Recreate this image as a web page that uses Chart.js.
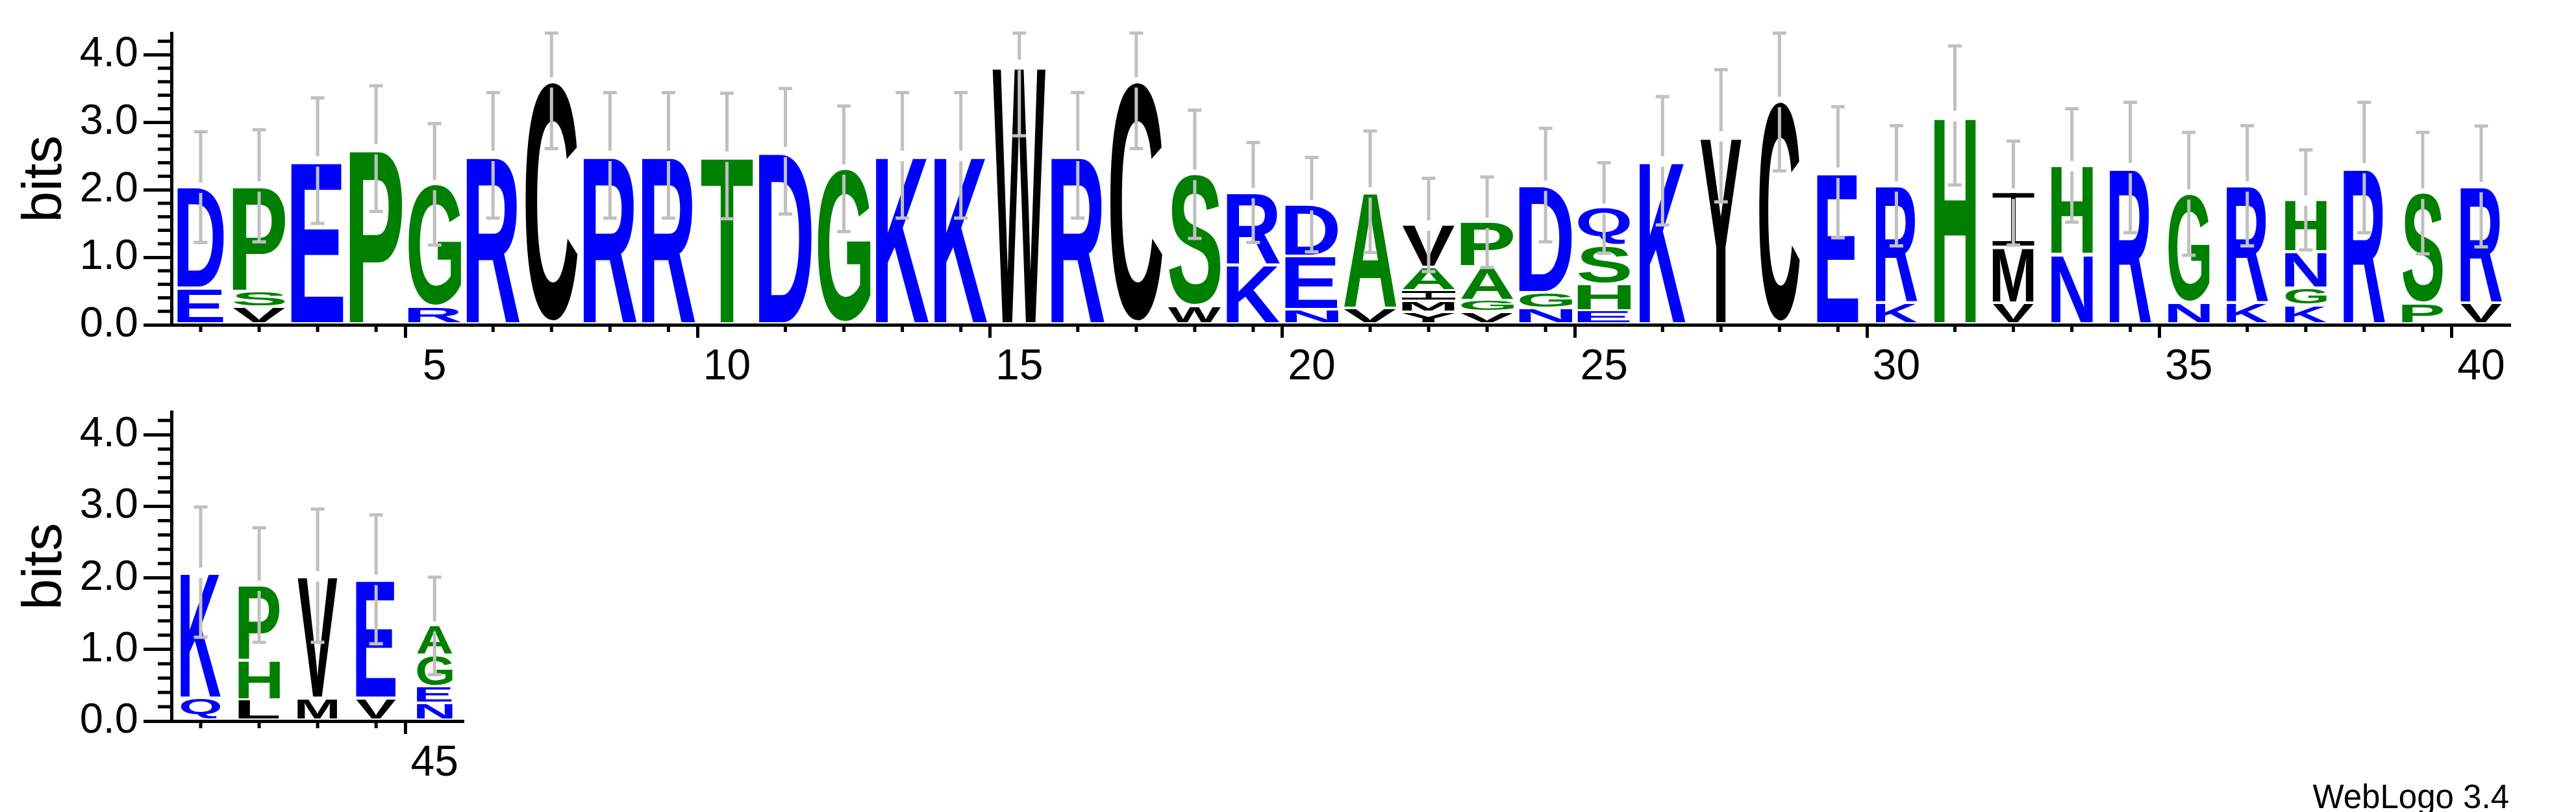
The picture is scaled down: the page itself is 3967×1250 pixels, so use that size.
<!DOCTYPE html>
<html>
<head>
<meta charset="utf-8">
<script src="https://cdn.jsdelivr.net/npm/chart.js@4.4.1/dist/chart.umd.min.js"></script>
<style>
  html, body { margin: 0; padding: 0; background: #ffffff; }
  body { width: 3967px; height: 1250px; position: relative; overflow: hidden; }
  #logoTop { position: absolute; left: 0; top: 0; }
  #logoBottom { position: absolute; left: 0; top: 583px; }
</style>
</head>
<body>
<canvas id="logoTop" width="3967" height="640"></canvas>
<canvas id="logoBottom" width="3967" height="667"></canvas>
<script>
// ---------------- DATA ----------------
// sequence positions (x categories) for the two rows
const topPositions = ['1','2','3','4','5','6','7','8','9','10','11','12','13','14','15','16','17','18','19','20',
                      '21','22','23','24','25','26','27','28','29','30','31','32','33','34','35','36','37','38','39','40'];
const bottomPositions = ['41','42','43','44','45'];

// letters of each stack, listed from bottom to top
const stackLetters = ['ED','VSP','E','P','RG','R','C','R','R','T','D','G','K','K','W','R','C','WS','KR','NED',
                      'VA','YMIAV','VGAP','NGD','EHSQ','K','Y','C','E','KR','H','VMI','NH','R','NG','KR','KGNH','R','PS','VR',
                      'QK','LHP','MV','VE','NEGA'];

// letter heights (bits), same order as the letters
const stackBits = [
  [0.53,1.51],[0.25,0.24,1.57],[2.43],[2.61],[0.25,1.83],[2.51],[3.60],[2.51],[2.51],[2.50],
  [2.57],[2.31],[2.51],[2.51],[3.86],[2.51],[3.60],[0.26,1.97],[0.88,1.08],[0.215,0.795,0.77],
  [0.24,1.73],[0.18,0.16,0.16,0.34,0.64],[0.18,0.17,0.50,0.67],[0.235,0.235,1.60],[0.20,0.39,0.57,0.57],
  [2.43],[2.80],[3.31],[2.26],[0.31,1.75],[3.10],[0.31,0.83,0.81],[1.03,1.33],[2.33],[0.31,1.63],
  [0.31,1.75],[0.28,0.25,0.54,0.78],[2.33],[0.30,1.65],[0.31,1.74],
  [0.31,1.77],[0.29,0.55,1.06],[0.31,1.72],[0.31,1.67],[0.24,0.23,0.44,0.42]
];

// error bar half-lengths (bits)
const errorBits = [0.82,0.83,0.93,0.93,0.90,0.93,0.99,0.93,0.93,0.93,
                   0.93,0.93,0.93,0.93,1.06,0.93,0.99,0.95,0.74,0.70,
                   0.90,0.69,0.67,0.84,0.67,0.95,0.98,1.03,0.97,0.89,
                   1.03,0.77,0.84,0.965,0.91,0.89,0.74,0.965,0.90,0.895,
                   0.91,0.80,0.93,0.90,0.68];

// stack width (fraction of non-gapped sequences)
const stackWidth = [0.88,1,1,1,1,1,1,1,1,1,1,1,1,1,1,1,1,1,1,1,
                    1,1,1,1,1,0.87,0.77,0.78,0.79,0.78,0.78,0.78,0.78,0.78,0.78,0.78,0.78,0.78,0.78,0.78,
                    0.76,0.78,0.76,0.76,0.67];

// y axis ticks
const yMax = 4.32;
const yStep = 0.2;

// ---------------- STYLE ----------------
const FONT = '"Liberation Sans", Arial, Helvetica, sans-serif';
const HYDROPHILIC = 'RKDENQ';
const NEUTRAL = 'SGHTAP';
function letterColor(ch) {
  if (HYDROPHILIC.includes(ch)) return '#0000ff';
  if (NEUTRAL.includes(ch)) return '#008000';
  return '#000000';
}

const glyphCache = {};
function drawGlyph(ctx, ch, x, y, w, h, color) {
  if (h < 0.5 || w < 0.5) return;
  ctx.save();
  ctx.fillStyle = color;
  if (ch === 'I') {
    const t = Math.max(3, Math.min(7, h * 0.085));
    const sw = Math.max(4, w * 0.11);
    ctx.fillRect(x, y, w, t);
    ctx.fillRect(x, y + h - t, w, t);
    ctx.fillRect(x + w / 2 - sw / 2, y, sw, h);
  } else {
    ctx.font = 'bold 400px ' + FONT;
    let m = glyphCache[ch];
    if (!m) {
      const mm = ctx.measureText(ch);
      m = { l: mm.actualBoundingBoxLeft, r: mm.actualBoundingBoxRight,
            a: mm.actualBoundingBoxAscent, d: mm.actualBoundingBoxDescent };
      glyphCache[ch] = m;
    }
    const gw = m.l + m.r, gh = m.a + m.d;
    ctx.translate(x, y);
    ctx.scale(w / gw, h / gh);
    ctx.textAlign = 'left';
    ctx.textBaseline = 'alphabetic';
    ctx.fillText(ch, m.l, m.a);
  }
  ctx.restore();
}

const logoPlugin = {
  id: 'logo',
  afterDatasetsDraw(chart, args, opts) {
    const ctx = chart.ctx;
    const xs = chart.scales.x, ys = chart.scales.y;
    // letters
    chart.data.datasets.forEach((ds, di) => {
      const meta = chart.getDatasetMeta(di);
      meta.data.forEach((el, j) => {
        if (ds.data[j] == null) return;
        const p = el.getProps(['x', 'y', 'base', 'width'], true);
        const top = Math.min(p.y, p.base);
        const bot = Math.max(p.y, p.base) - 3.5;
        const w = p.width * stackWidth[opts.offset + j];
        drawGlyph(ctx, ds.letters[j], p.x - w / 2, top, w, bot - top, letterColor(ds.letters[j]));
      });
    });
    // error bars
    ctx.save();
    ctx.strokeStyle = '#c0c0c0';
    ctx.lineWidth = 5;
    ctx.lineCap = 'butt';
    opts.totals.forEach((tot, j) => {
      const err = errorBits[opts.offset + j];
      const x = xs.getPixelForValue(j);
      const yc = ys.getPixelForValue(tot);
      const yt = ys.getPixelForValue(Math.min(tot + err, ys.max));
      const yb = ys.getPixelForValue(Math.max(tot - err, 0));
      ctx.beginPath();
      ctx.moveTo(x, yt); ctx.lineTo(x, yc - 7);
      ctx.moveTo(x, yc + 9); ctx.lineTo(x, yb);
      ctx.moveTo(x - 10.5, yt); ctx.lineTo(x + 10.5, yt);
      ctx.moveTo(x - 10.5, yb); ctx.lineTo(x + 10.5, yb);
      ctx.stroke();
    });
    ctx.restore();
  },
  afterDraw(chart, args, opts) {
    // minor ticks on both axes
    const ctx = chart.ctx, ca = chart.chartArea;
    const xs = chart.scales.x, ys = chart.scales.y;
    ctx.save();
    ctx.strokeStyle = '#000';
    ctx.lineWidth = 5;
    ys.ticks.forEach(t => {
      if (Math.abs(t.value - Math.round(t.value)) > 1e-6) {
        const py = ys.getPixelForValue(t.value);
        ctx.beginPath(); ctx.moveTo(ca.left - 21, py); ctx.lineTo(ca.left, py); ctx.stroke();
      }
    });
    xs.ticks.forEach((t, i) => {
      const lab = Number(chart.data.labels[t.value]);
      if (lab % 5 !== 0) {
        const px = xs.getPixelForValue(t.value);
        ctx.beginPath(); ctx.moveTo(px, ca.bottom); ctx.lineTo(px, ca.bottom + 11); ctx.stroke();
      }
    });
    if (opts.footer) {
      ctx.fillStyle = '#000';
      ctx.font = '51px ' + FONT;
      ctx.textAlign = 'right';
      ctx.textBaseline = 'alphabetic';
      ctx.fillText(opts.footer, 3864, 661);
    }
    ctx.restore();
  }
};

function makeLogo(canvasId, positions, offset, chartAreaRight, footer) {
  const canvas = document.getElementById(canvasId);
  const layers = 5;
  const datasets = [];
  for (let L = 0; L < layers; L++) {
    datasets.push({
      data: positions.map((p, j) => {
        const v = stackBits[offset + j][L];
        return v === undefined ? null : v;
      }),
      letters: positions.map((p, j) => stackLetters[offset + j][L] || ''),
      backgroundColor: 'rgba(0,0,0,0)',
      borderWidth: 0,
      barPercentage: 0.911,
      categoryPercentage: 1.0
    });
  }
  const totals = positions.map((p, j) => stackBits[offset + j].reduce((a, b) => a + b, 0));
  return new Chart(canvas, {
    type: 'bar',
    data: { labels: positions, datasets },
    options: {
      responsive: false,
      animation: false,
      events: [],
      layout: { padding: { left: 0, top: 51, right: canvas.width - chartAreaRight, bottom: 0 } },
      plugins: {
        legend: { display: false },
        tooltip: { enabled: false },
        title: { display: false },
        logo: { offset, totals, footer }
      },
      scales: {
        x: {
          stacked: true,
          offset: true,
          grid: {
            display: true, drawOnChartArea: false, drawTicks: true,
            tickLength: 20, tickWidth: 5,
            tickColor: (c) => (Number(positions[c.index]) % 5 === 0 ? '#000' : 'rgba(0,0,0,0)')
          },
          border: { display: true, width: 5, color: '#000' },
          ticks: {
            autoSkip: false, maxRotation: 0, minRotation: 0, padding: 6, color: '#000',
            font: { family: FONT, size: 66 },
            callback: function (v) { const l = this.getLabelForValue(v); return Number(l) % 5 === 0 ? l : ''; }
          },
          afterFit: (s) => { s.height = 140; }
        },
        y: {
          stacked: true,
          min: 0, max: yMax,
          grid: {
            display: true, drawOnChartArea: false, drawTicks: true,
            tickLength: 43, tickWidth: 5,
            tickColor: (c) => (c.tick && Math.abs(c.tick.value - Math.round(c.tick.value)) < 1e-6 ? '#000' : 'rgba(0,0,0,0)')
          },
          border: { display: true, width: 5, color: '#000' },
          ticks: {
            stepSize: yStep, includeBounds: false, autoSkip: false, padding: 8, color: '#000',
            font: { family: FONT, size: 65 },
            callback: (v) => (Math.abs(v - Math.round(v)) < 1e-6 ? Number(v).toFixed(1) : '')
          },
          title: { display: true, text: 'bits', color: '#000', font: { family: FONT, size: 86 }, padding: { top: 18.5, bottom: 0 } },
          afterFit: (s) => { s.width = 264; }
        }
      }
    },
    plugins: [logoPlugin]
  });
}

makeLogo('logoTop', topPositions, 0, 3866, null);
makeLogo('logoBottom', bottomPositions, 40, 264 + 5 * (3602 / 40), 'WebLogo 3.4');
</script>
</body>
</html>
